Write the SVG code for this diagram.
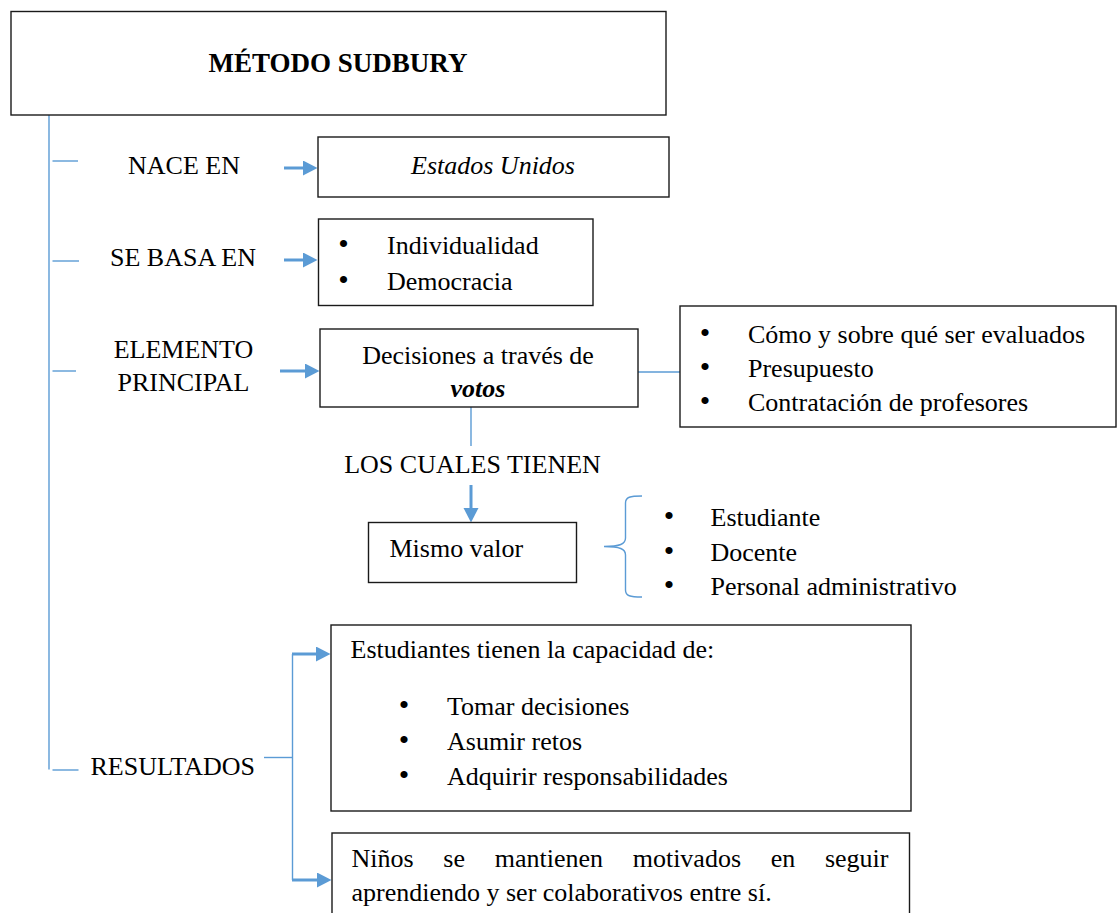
<svg xmlns="http://www.w3.org/2000/svg" width="1117" height="913" viewBox="0 0 1117 913">
<style>
text{font-family:"Liberation Serif","Times New Roman",serif;font-size:26px;fill:#000}
.b{font-weight:bold}
.i{font-style:italic}
.m{text-anchor:middle}
.bl{font-size:30px}
.box{fill:#fff;stroke:#1a1a1a;stroke-width:1.4}
.thin{stroke:#5B9BD5;stroke-width:1.4;fill:none}
.thick{stroke:#5B9BD5;stroke-width:3;fill:none;marker-end:url(#ah)}
</style>
<defs>
<marker id="ah" markerUnits="userSpaceOnUse" markerWidth="15" markerHeight="16" refX="0" refY="7.5" orient="auto">
<path d="M0,0 L14.5,7.5 L0,15 z" fill="#5B9BD5"/>
</marker>
</defs>
<rect width="1117" height="913" fill="#fff"/>

<g id="connectors">
<line class="thin" x1="49" y1="115" x2="49" y2="769.5"/>
<line class="thin" x1="52.5" y1="161" x2="78" y2="161"/>
<line class="thin" x1="52.5" y1="261" x2="79" y2="261"/>
<line class="thin" x1="52.5" y1="371" x2="76" y2="371"/>
<line class="thin" x1="52.5" y1="770" x2="78.5" y2="770"/>
<line class="thick" x1="284" y1="168" x2="303" y2="168"/>
<line class="thick" x1="284" y1="260" x2="303" y2="260"/>
<line class="thick" x1="280" y1="371" x2="305" y2="371"/>
<line class="thin" x1="638" y1="372" x2="680" y2="372"/>
<line class="thin" x1="471" y1="407" x2="471" y2="446"/>
<line class="thick" x1="471" y1="485" x2="471" y2="508"/>
<path class="thin" d="M642,496 C630,496 625.5,497 625.5,503 L625.5,538 C625.5,544 620,546.5 604,546.5 C620,546.5 625.5,549 625.5,555 L625.5,590 C625.5,596 630,597 642,597"/>
<polyline class="thin" points="264,757.5 292.5,757.5"/>
<line class="thin" x1="292.5" y1="654" x2="292.5" y2="880"/>
<line class="thick" x1="292" y1="654" x2="316" y2="654"/>
<line class="thick" x1="292" y1="880" x2="317" y2="880"/>
</g>

<g id="titulo">
<rect class="box" x="11" y="11.5" width="655" height="103.5"/>
<text class="b m" x="338" y="72" style="font-size:27px">MÉTODO SUDBURY</text>
</g>

<g id="nace-en">
<text x="128" y="174">NACE EN</text>
</g>
<g id="estados-unidos">
<rect class="box" x="318" y="137" width="351" height="60"/>
<text class="i m" x="493" y="174">Estados Unidos</text>
</g>

<g id="se-basa-en">
<text x="110" y="266">SE BASA EN</text>
</g>
<g id="bases">
<rect class="box" x="318.5" y="219" width="274.5" height="86.5"/>
<text y="254"><tspan class="bl" x="338.3">•</tspan><tspan x="387">Individualidad</tspan></text>
<text y="290"><tspan class="bl" x="338.3">•</tspan><tspan x="387">Democracia</tspan></text>
</g>

<g id="elemento-principal">
<text class="m" x="183.5" y="358">ELEMENTO</text>
<text class="m" x="183.5" y="391">PRINCIPAL</text>
</g>
<g id="decisiones">
<rect class="box" x="320" y="329" width="318" height="78"/>
<text class="m" x="478" y="364">Decisiones a través de</text>
<text class="b i m" x="478" y="397">votos</text>
</g>
<g id="temas">
<rect class="box" x="680" y="306" width="436" height="121"/>
<text y="343"><tspan class="bl" x="699.8">•</tspan><tspan x="748">Cómo y sobre qué ser evaluados</tspan></text>
<text y="377"><tspan class="bl" x="699.8">•</tspan><tspan x="748">Presupuesto</tspan></text>
<text y="411"><tspan class="bl" x="699.8">•</tspan><tspan x="748">Contratación de profesores</tspan></text>
</g>

<g id="los-cuales-tienen">
<text class="m" x="472.5" y="473">LOS CUALES TIENEN</text>
</g>
<g id="mismo-valor">
<rect class="box" x="368.5" y="522.5" width="208" height="60"/>
<text x="389.5" y="557">Mismo valor</text>
</g>
<g id="miembros">
<text y="526"><tspan class="bl" x="663.8">•</tspan><tspan x="710.5">Estudiante</tspan></text>
<text y="560.5"><tspan class="bl" x="663.8">•</tspan><tspan x="710.5">Docente</tspan></text>
<text y="594.5"><tspan class="bl" x="663.8">•</tspan><tspan x="710.5">Personal administrativo</tspan></text>
</g>

<g id="resultados">
<text x="90.5" y="775">RESULTADOS</text>
</g>
<g id="capacidades">
<rect class="box" x="331" y="625" width="580" height="186"/>
<text x="350.5" y="658">Estudiantes tienen la capacidad de:</text>
<text y="715"><tspan class="bl" x="398.8">•</tspan><tspan x="447">Tomar decisiones</tspan></text>
<text y="750"><tspan class="bl" x="398.8">•</tspan><tspan x="447">Asumir retos</tspan></text>
<text y="785"><tspan class="bl" x="398.8">•</tspan><tspan x="447">Adquirir responsabilidades</tspan></text>
</g>
<g id="motivacion">
<rect class="box" x="332" y="833" width="577.5" height="120"/>
<text y="867"><tspan x="351.5">Niños</tspan><tspan x="443.3">se</tspan><tspan x="494.7">mantienen</tspan><tspan x="632.7">motivados</tspan><tspan x="770.7">en</tspan><tspan x="824.9">seguir</tspan></text>
<text x="351.5" y="900.5">aprendiendo y ser colaborativos entre sí.</text>
</g>
</svg>
